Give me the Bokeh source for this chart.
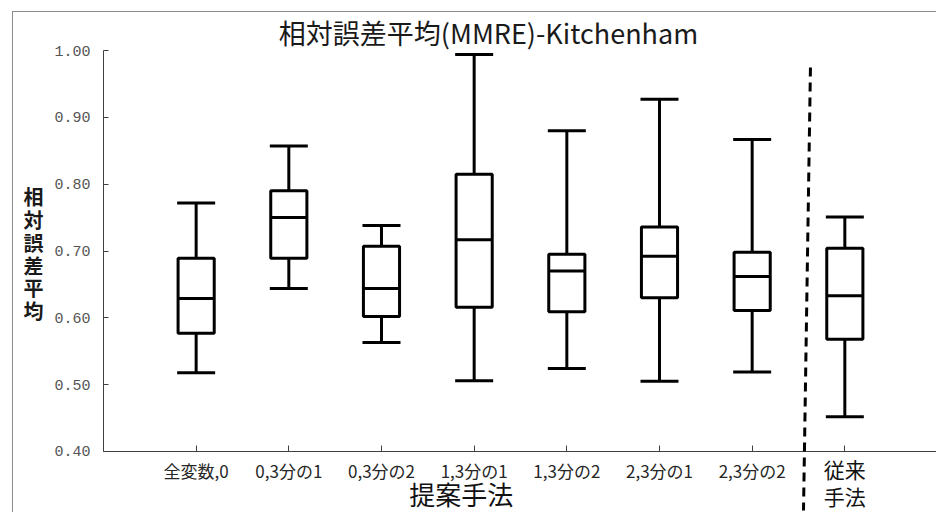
from bokeh.plotting import figure
from bokeh.models import (ColumnDataSource, Range1d, FixedTicker, NumeralTickFormatter,
                          Label, Arrow)
from bokeh.embed import file_html
from bokeh.resources import INLINE

# Method groups (x positions 1..8) and their box statistics
categories = ["全変数,0", "0,3分の1", "0,3分の2", "1,3分の1",
              "1,3分の2", "2,3分の1", "2,3分の2", "従来手法"]
positions = [1, 2, 3, 4, 5, 6, 7, 8]
whisker_low = [0.518, 0.644, 0.563, 0.506, 0.524, 0.505, 0.519, 0.452]
q1 = [0.577, 0.689, 0.602, 0.616, 0.609, 0.630, 0.611, 0.568]
median = [0.629, 0.750, 0.644, 0.717, 0.670, 0.692, 0.662, 0.633]
q3 = [0.689, 0.790, 0.707, 0.815, 0.695, 0.736, 0.698, 0.704]
whisker_high = [0.772, 0.857, 0.738, 0.994, 0.880, 0.927, 0.867, 0.751]

y_ticks = [0.40, 0.50, 0.60, 0.70, 0.80, 0.90, 1.00]
x_ticks = [1, 2, 3, 4, 5, 6, 7, 8, 9]

JP = "Noto Sans CJK JP"
BOX_W = 0.39
CAP_W = 0.41

src = ColumnDataSource(dict(
    x=positions, lo=whisker_low, q1=q1, med=median, q3=q3, hi=whisker_high,
    cap_l=[x - CAP_W / 2 for x in positions], cap_r=[x + CAP_W / 2 for x in positions],
    box_l=[x - BOX_W / 2 for x in positions], box_r=[x + BOX_W / 2 for x in positions],
))

# The plotting frame fills the whole canvas; the axes sit at fixed positions inside
# it so that the captions and the divider can extend past the axis lines.
p = figure(width=924, height=501, output_backend="svg", toolbar_location=None,
           x_range=Range1d(-0.971, 9.0), y_range=Range1d(0.3072, 1.0569),
           min_border=0, background_fill_color="white", border_fill_color="white")
p.margin = (11, 0, 0, 12)
p.styles = {"border-top": "1px solid #8c8c8c", "border-left": "1px solid #8c8c8c"}
p.outline_line_color = None
p.grid.visible = False

# whiskers
p.segment("x", "q3", "x", "hi", source=src, line_color="black", line_width=3)
p.segment("x", "lo", "x", "q1", source=src, line_color="black", line_width=3)
p.segment("cap_l", "hi", "cap_r", "hi", source=src, line_color="black", line_width=3)
p.segment("cap_l", "lo", "cap_r", "lo", source=src, line_color="black", line_width=3)
# boxes and medians
p.vbar(x="x", bottom="q1", top="q3", width=BOX_W, source=src, fill_color="white",
       line_color="black", line_width=3)
p.segment("box_l", "med", "box_r", "med", source=src, line_color="black", line_width=3)

# axes
xa = p.xaxis[0]
xa.fixed_location = 0.40
xa.bounds = (0, 9)
xa.ticker = FixedTicker(ticks=x_ticks)
overrides = {i + 1: lab for i, lab in enumerate(categories[:7])}
overrides[8] = ""
overrides[9] = ""
xa.major_label_overrides = overrides
xa.major_label_text_font = JP
xa.major_label_text_font_size = "17px"
xa.major_label_text_color = "#262626"
xa.major_label_standoff = 7
xa.major_tick_in = 6
xa.major_tick_out = 0
xa.minor_tick_line_color = None
xa.axis_line_color = "#404040"
xa.major_tick_line_color = "#404040"

ya = p.yaxis[0]
ya.fixed_location = 0
ya.bounds = (0.40, 1.00)
ya.ticker = FixedTicker(ticks=y_ticks)
ya.formatter = NumeralTickFormatter(format="0.00")
ya.major_label_text_font = "Liberation Mono"
ya.major_label_text_font_size = "15px"
ya.major_label_text_color = "#555555"
ya.major_label_standoff = 13
ya.major_tick_in = 5
ya.major_tick_out = 0
ya.minor_tick_line_color = None
ya.axis_line_color = "#404040"
ya.major_tick_line_color = "#404040"

# title
p.add_layout(Label(x=4.155, y=1.0269, text="相対誤差平均(MMRE)-Kitchenham",
                   text_font=JP, text_font_size="27px", text_color="#1a1a1a",
                   text_align="center", text_baseline="middle"))

# vertical y-axis caption, one character per line
p.add_layout(Label(x=-0.755, y=0.696, text="相\n対\n誤\n差\n平\n均",
                   text_font=JP, text_font_size="20px", text_font_style="bold",
                   text_color="#1a1a1a", text_line_height=0.784,
                   text_align="center", text_baseline="middle"))

# group captions below the axis
p.add_layout(Label(x=3.86, y=0.3372, text="提案手法",
                   text_font=JP, text_font_size="26px", text_color="#111111",
                   text_align="center", text_baseline="middle"))
p.add_layout(Label(x=8.0, y=0.3536, text="従来\n手法",
                   text_font=JP, text_font_size="21px", text_color="#111111",
                   text_line_height=0.905, text_align="center", text_baseline="middle"))

# divider between proposed and conventional methods
p.add_layout(Arrow(end=None, x_start=7.629, y_start=0.9746, x_end=7.554, y_end=0.3117,
                   line_color="black", line_width=3, line_dash="9 6"))

open("out.html", "w").write(file_html(p, INLINE))
